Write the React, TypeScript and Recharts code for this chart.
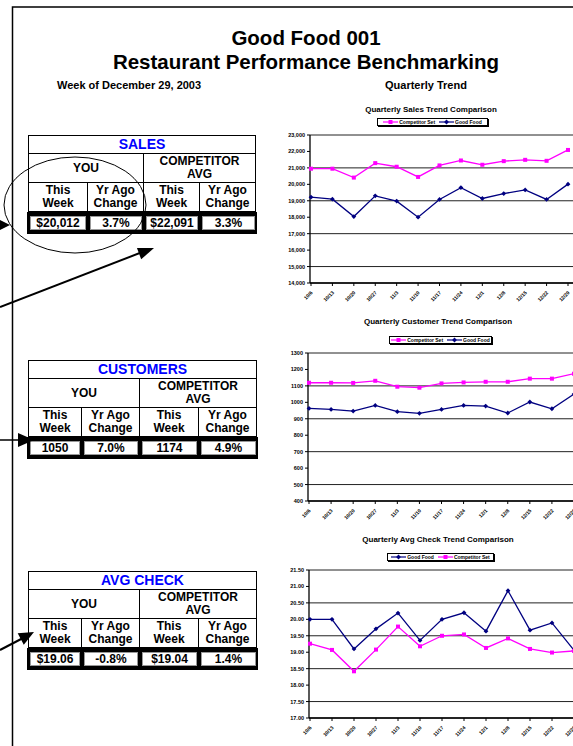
import { LineChart, Line, XAxis, YAxis, CartesianGrid } from "recharts";

const weeks = ["10/6", "10/13", "10/20", "10/27", "11/3", "11/10", "11/17", "11/24", "12/1", "12/8", "12/15", "12/22", "12/29"];

const salesCompetitor = [20950, 20950, 20410, 21290, 21070, 20450, 21150, 21450, 21190, 21410, 21490, 21430, 22091];
const salesGoodFood = [19220, 19100, 18040, 19300, 18980, 18000, 19080, 19800, 19140, 19440, 19660, 19080, 20012];
const salesTicks = [14000, 15000, 16000, 17000, 18000, 19000, 20000, 21000, 22000, 23000];

const customersCompetitor = [1119, 1119, 1118, 1131, 1095, 1089, 1115, 1121, 1125, 1125, 1144, 1144, 1174];
const customersGoodFood = [963, 957, 947, 981, 943, 933, 957, 981, 977, 935, 1002, 961, 1050];
const customerTicks = [400, 500, 600, 700, 800, 900, 1000, 1100, 1200, 1300];

const checkGoodFood = [20.0, 20.0, 19.1, 19.71, 20.19, 19.36, 20.0, 20.2, 19.64, 20.87, 19.67, 19.89, 19.06];
const checkCompetitor = [19.26, 19.07, 18.42, 19.08, 19.78, 19.18, 19.5, 19.54, 19.13, 19.42, 19.1, 18.99, 19.04];
const checkTicks = [17, 17.5, 18, 18.5, 19, 19.5, 20, 20.5, 21, 21.5];

const salesValues = ["$20,012", "3.7%", "$22,091", "3.3%"];
const customerValues = ["1050", "7.0%", "1174", "4.9%"];
const checkValues = ["$19.06", "-0.8%", "$19.04", "1.4%"];

const FONT = '"Liberation Sans", Arial, sans-serif';
const NAVY = "#000080";
const MAGENTA = "#ff00ff";

const square = (p: any) => (
  <rect key={p.index} x={p.cx - 2} y={p.cy - 2} width={4} height={4} fill={MAGENTA} />
);
const diamond = (p: any) => (
  <polygon
    key={p.index}
    points={`${p.cx},${p.cy - 2.4} ${p.cx + 2.4},${p.cy} ${p.cx},${p.cy + 2.4} ${p.cx - 2.4},${p.cy}`}
    fill={NAVY}
  />
);

const XTick = (props: any) => {
  const { x, y, payload } = props;
  return (
    <text
      transform={`translate(${x + 2},${y + 5}) rotate(-45)`}
      textAnchor="end"
      fontSize={5}
      fontWeight="bold"
      fill="#000"
      fontFamily={FONT}
    >
      {payload.value}
    </text>
  );
};

function LegendSample({ kind }: { kind: "comp" | "good" }) {
  const c = kind === "comp" ? MAGENTA : NAVY;
  return (
    <svg width={15} height={6} style={{ display: "block", flex: "0 0 15px" }}>
      <line x1={0} y1={3} x2={15} y2={3} stroke={c} strokeWidth={1.2} />
      {kind === "comp" ? (
        <rect x={5.5} y={1} width={4} height={4} fill={c} />
      ) : (
        <polygon points="7.5,0.6 9.9,3 7.5,5.4 5.1,3" fill={c} />
      )}
    </svg>
  );
}

function TrendChart(props: {
  top: number;
  title: string;
  titleY: number;
  titleX: number;
  legendX: number;
  legendY: number;
  legendW: number;
  order: ("comp" | "good")[];
  comp: number[];
  good: number[];
  ticks: number[];
  fmt: (v: number) => string;
  yWidth: number;
  right: number;
  padRight: number;
}) {
  const data = weeks.map((w, i) => ({ week: w, comp: props.comp[i], good: props.good[i] }));
  const names = { comp: "Competitor Set", good: "Good Food" };
  return (
    <>
      <div
        style={{
          position: "absolute",
          left: props.titleX - 100,
          width: 200,
          top: props.titleY - 6,
          textAlign: "center",
          fontSize: 8,
          fontWeight: "bold",
          lineHeight: "12px",
          whiteSpace: "nowrap",
        }}
      >
        {props.title}
      </div>
      <div
        style={{
          position: "absolute",
          left: props.legendX,
          top: props.legendY,
          width: props.legendW,
          height: 8,
          boxSizing: "border-box",
          border: "1px solid #000",
          boxShadow: "1px 1px 0 #000",
          display: "flex",
          alignItems: "center",
          justifyContent: "center",
          gap: 4,
          fontSize: 5,
          fontWeight: "bold",
          background: "#fff",
          whiteSpace: "nowrap",
        }}
      >
        {props.order.map((k) => (
          <div key={k} style={{ display: "flex", alignItems: "center", gap: 1, whiteSpace: "nowrap" }}>
            <LegendSample kind={k} />
            <span>{names[k]}</span>
          </div>
        ))}
      </div>
      <div style={{ position: "absolute", left: 250, top: props.top }}>
        <LineChart
          width={330}
          height={180}
          data={data}
          margin={{ top: 10, right: props.right, bottom: 0, left: 0 }}
        >
          <CartesianGrid horizontal vertical={false} stroke="#222" strokeWidth={1} />
          <XAxis
            dataKey="week"
            interval={0}
            height={22}
            tick={<XTick />}
            tickSize={3}
            axisLine={{ stroke: "#000", strokeWidth: 1.3 }}
            tickLine={{ stroke: "#000" }}
            padding={{ left: 1, right: props.padRight }}
          />
          <YAxis
            width={props.yWidth}
            domain={[props.ticks[0], props.ticks[props.ticks.length - 1]]}
            ticks={props.ticks}
            tickFormatter={props.fmt}
            tickSize={3}
            tick={{ fontSize: 5.5, fontWeight: "bold", fill: "#000", fontFamily: FONT }}
            axisLine={{ stroke: "#000", strokeWidth: 1.3 }}
            tickLine={{ stroke: "#000" }}
          />
          {props.order.map((k) => (
            <Line
              key={k}
              dataKey={k}
              stroke={k === "comp" ? MAGENTA : NAVY}
              strokeWidth={1.3}
              dot={k === "comp" ? square : diamond}
              isAnimationActive={false}
            />
          ))}
        </LineChart>
      </div>
    </>
  );
}

function MetricTable(props: { top: number; title: string; cols: number[]; values: string[] }) {
  const [a, b, c, d] = props.cols;
  const w = a + b + c + d;
  const line = "1px solid #000";
  const cell = (width: number, text: any, border: boolean) => (
    <div
      style={{
        width,
        boxSizing: "border-box",
        borderRight: border ? line : "none",
        display: "flex",
        alignItems: "center",
        justifyContent: "center",
        textAlign: "center",
        lineHeight: "13px",
      }}
    >
      {text}
    </div>
  );
  return (
    <div
      style={{
        position: "absolute",
        left: 28,
        top: props.top,
        width: w,
        fontSize: 12,
        fontWeight: "bold",
      }}
    >
      <div style={{ border: line, boxSizing: "border-box" }}>
        <div
          style={{
            height: 17,
            borderBottom: line,
            color: "#0000ff",
            fontSize: 14,
            textAlign: "center",
            lineHeight: "17px",
          }}
        >
          {props.title}
        </div>
        <div style={{ height: 28, display: "flex", borderBottom: line }}>
          {cell(a + b, "YOU", true)}
          {cell(c + d - 2, <span>COMPETITOR<br />AVG</span>, false)}
        </div>
        <div style={{ height: 28, display: "flex" }}>
          {cell(a, <span>This<br />Week</span>, true)}
          {cell(b, <span>Yr Ago<br />Change</span>, true)}
          {cell(c, <span>This<br />Week</span>, true)}
          {cell(d - 2, <span>Yr Ago<br />Change</span>, false)}
        </div>
      </div>
      <div
        style={{
          height: 22,
          background: "#000",
          display: "flex",
          boxSizing: "border-box",
          padding: "4px 3px",
          gap: 4,
          marginLeft: -1,
          width: w + 2,
        }}
      >
        {props.values.map((v, i) => (
          <div
            key={i}
            style={{
              flex: `0 0 ${props.cols[i] - 4 + (i === 0 ? 1 : 0)}px`,
              background: "#fff",
              boxSizing: "border-box",
              border: "1px solid #999",
              textAlign: "center",
              lineHeight: "12px",
            }}
          >
            {v}
          </div>
        ))}
      </div>
    </div>
  );
}

function arrowHead(x1: number, y1: number, x2: number, y2: number, len: number, half: number) {
  const dx = x2 - x1;
  const dy = y2 - y1;
  const m = Math.sqrt(dx * dx + dy * dy);
  const ux = dx / m;
  const uy = dy / m;
  const bx = x2 - ux * len;
  const by = y2 - uy * len;
  return `${x2},${y2} ${bx - uy * half},${by + ux * half} ${bx + uy * half},${by - ux * half}`;
}

export default function App() {
  return (
    <div
      style={{
        position: "absolute",
        left: 0,
        top: 0,
        width: 573,
        height: 746,
        overflow: "hidden",
        background: "#fff",
        fontFamily: FONT,
        color: "#000",
      }}
    >
      <div style={{ position: "absolute", left: 0, width: 612, top: 26, textAlign: "center", fontSize: 20.5, fontWeight: "bold", lineHeight: "24px" }}>
        Good Food 001
        <br />
        Restaurant Performance Benchmarking
      </div>
      <div style={{ position: "absolute", left: 57, top: 79, fontSize: 11, fontWeight: "bold" }}>
        Week of December 29, 2003
      </div>
      <div style={{ position: "absolute", left: 385, top: 79, fontSize: 11, fontWeight: "bold" }}>
        Quarterly Trend
      </div>

      <MetricTable top={135} title="SALES" cols={[59, 56, 56, 57]} values={salesValues} />
      <MetricTable top={360} title="CUSTOMERS" cols={[53, 58, 59, 59]} values={customerValues} />
      <MetricTable top={571} title="AVG CHECK" cols={[53, 58, 59, 59]} values={checkValues} />

      <TrendChart
        top={125}
        title="Quarterly Sales Trend Comparison"
        titleX={431}
        titleY={110}
        legendX={377}
        legendY={118}
        legendW={111}
        order={["comp", "good"]}
        comp={salesCompetitor}
        good={salesGoodFood}
        ticks={salesTicks}
        fmt={(v) => v.toLocaleString("en-US")}
        yWidth={60}
        right={7}
        padRight={5}
      />
      <TrendChart
        top={343}
        title="Quarterly Customer Trend Comparison"
        titleX={438}
        titleY={322}
        legendX={389}
        legendY={336}
        legendW={103}
        order={["comp", "good"]}
        comp={customersCompetitor}
        good={customersGoodFood}
        ticks={customerTicks}
        fmt={(v) => String(v)}
        yWidth={58}
        right={4}
        padRight={2}
      />
      <TrendChart
        top={560}
        title="Quarterly Avg Check Trend Comparison"
        titleX={438}
        titleY={540}
        legendX={387}
        legendY={553}
        legendW={107}
        order={["good", "comp"]}
        comp={checkCompetitor}
        good={checkGoodFood}
        ticks={checkTicks}
        fmt={(v) => v.toFixed(2)}
        yWidth={59}
        right={4}
        padRight={2}
      />

      <svg width={573} height={746} style={{ position: "absolute", left: 0, top: 0, pointerEvents: "none" }}>
        <polyline points="12.5,746 12.5,7 573,7" fill="none" stroke="#000" strokeWidth={1.5} />
        <ellipse cx={75} cy={205} rx={71} ry={48} fill="none" stroke="#000" strokeWidth={1} />
        <polygon points="0,220 10,225 0,230" fill="#000" />
        <line x1={0} y1={307} x2={145} y2={251} stroke="#000" strokeWidth={2} />
        <polygon points={arrowHead(0, 307, 154, 248, 16, 6)} fill="#000" />
        <line x1={0} y1={440} x2={22} y2={440} stroke="#000" strokeWidth={1.5} />
        <polygon points={arrowHead(0, 440, 34, 440, 16, 7)} fill="#000" />
        <line x1={0} y1={650} x2={25} y2={637} stroke="#000" strokeWidth={2} />
        <polygon points={arrowHead(0, 650, 34, 632, 15, 6.5)} fill="#000" />
      </svg>
    </div>
  );
}
